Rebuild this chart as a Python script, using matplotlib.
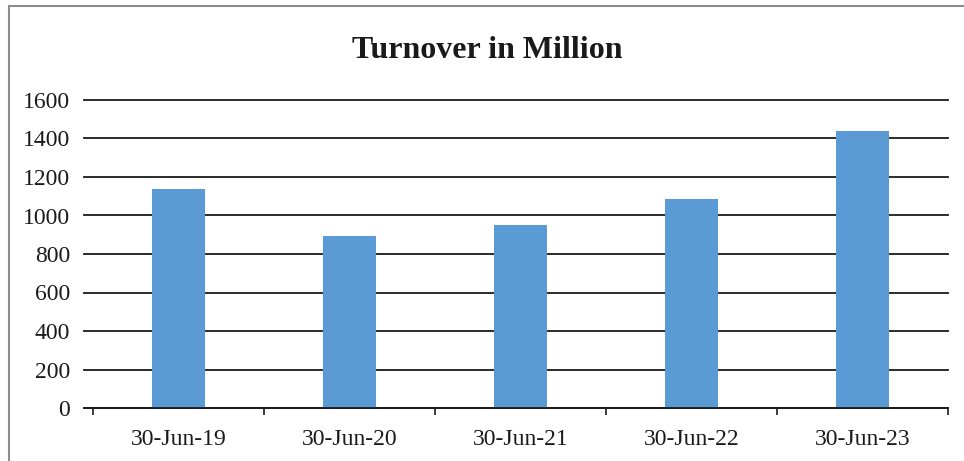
import matplotlib
matplotlib.use("Agg")
import matplotlib.pyplot as plt
from matplotlib.patches import Rectangle

plt.rcParams["font.family"] = ["Liberation Serif", "DejaVu Serif"]

# data
dates = ["30-Jun-19", "30-Jun-20", "30-Jun-21", "30-Jun-22", "30-Jun-23"]
turnover = [1140, 893, 951, 1088, 1438]
yticks = [0, 200, 400, 600, 800, 1000, 1200, 1400, 1600]

BAR = "#5B9BD5"
INK = "#1a1a1a"

W, H = 964, 461
fig = plt.figure(figsize=(W / 100, H / 100), dpi=100)
ax = fig.add_axes([84 / W, 53 / H, (948 - 84) / W, (408 - 100) / H])

x = list(range(len(dates)))
ax.bar(x, turnover, width=0.31, color=BAR, zorder=3)

ax.set_ylim(0, 1600)
ax.set_xlim(-0.5 - 9 / 171, 4.5)
ax.set_yticks(yticks)
ax.set_yticklabels([str(v) for v in yticks], fontsize=17)
ax.yaxis.grid(True, color=INK, lw=1.3, zorder=1)
for gl in ax.get_ygridlines():
    gl.set_clip_on(False)
ax.tick_params(axis="y", length=0, pad=10, colors=INK)

# category ticks at boundaries, labels at centres
ax.set_xticks([i - 0.5 for i in range(len(dates) + 1)])
ax.set_xticklabels([])
ax.set_xticks(x, minor=True)
ax.set_xticklabels(dates, minor=True, fontsize=17)
ax.tick_params(axis="x", which="major", length=5, width=1.2, color=INK, direction="out")
ax.tick_params(axis="x", which="minor", length=0, pad=15, colors=INK)

for s in ["left", "right", "top"]:
    ax.spines[s].set_visible(False)
ax.spines["bottom"].set_color(INK)
ax.spines["bottom"].set_linewidth(1.3)
ax.spines["bottom"].set_zorder(4)

fig.text(487 / W, 1 - 50 / H, "Turnover in Million", ha="center", va="center",
         fontsize=23, fontweight="bold", color=INK)

# outer frame (only top and left visible)
fig.patches.append(Rectangle((9 / W, -0.2), 1.2, 0.2 + (H - 6) / H,
                             transform=fig.transFigure, fill=False,
                             ec="#8c8c8c", lw=1.5, zorder=0))

fig.savefig("out.png", dpi=100)
